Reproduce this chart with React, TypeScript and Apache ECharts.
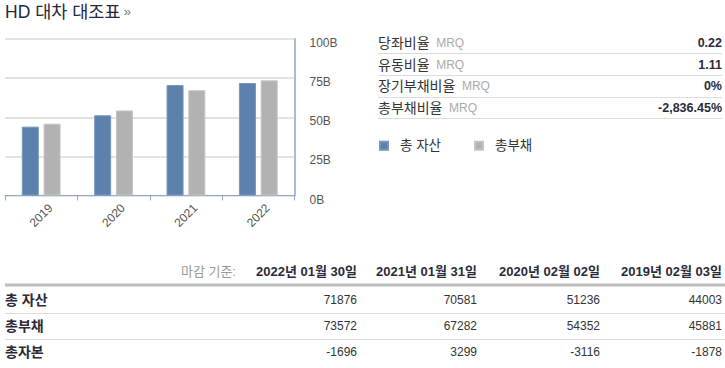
import React, { useEffect, useRef } from "react";
import * as echarts from "echarts";

const title = "HD 대차 대조표";
const years = ["2019", "2020", "2021", "2022"];
const totalAssets = [44003, 51236, 70581, 71876];
const totalLiabilities = [45881, 54352, 67282, 73572];
const seriesNames = ["총 자산", "총부채"];

const ratioLabels = ["당좌비율", "유동비율", "장기부채비율", "총부채비율"];
const ratioValues = ["0.22", "1.11", "0%", "-2,836.45%"];

const tableHeaderLabel = "마감 기준:";
const tableDates = ["2022년 01월 30일", "2021년 01월 31일", "2020년 02월 02일", "2019년 02월 03일"];
const tableRowLabels = ["총 자산", "총부채", "총자본"];
const tableAssets = [71876, 70581, 51236, 44003];
const tableLiabilities = [73572, 67282, 54352, 45881];
const tableEquity = [-1696, 3299, -3116, -1878];

const yTicks = [0, 25, 50, 75, 100];

const FONT = "'Liberation Sans', 'Noto Sans CJK KR', sans-serif";

export default function App() {
  const ref = useRef<HTMLDivElement>(null);
  useEffect(() => {
    if (!ref.current) return;
    const chart = echarts.init(ref.current, undefined, { renderer: "svg" });
    const graphics: any[] = [];

    graphics.push({
      type: "text",
      left: 5,
      top: 3,
      style: {
        text: `{t|${title}} {r|»}`,
        rich: {
          t: { fontSize: 17.5, fill: "#262640", fontFamily: FONT },
          r: { fontSize: 13, fill: "#777", fontFamily: FONT },
        },
      },
    });

    const ratioRowY = [42.5, 64.5, 86, 107.5];
    const ratioLineY = [53.5, 75.5, 97.5, 118.5];
    ratioLabels.forEach((lab, i) => {
      graphics.push({
        type: "text",
        x: 378,
        y: ratioRowY[i],
        style: {
          text: `{a|${lab}}  {b|MRQ}`,
          verticalAlign: "middle",
          rich: {
            a: { fontSize: 14, fill: "#333", fontFamily: FONT },
            b: { fontSize: 12, fill: "#aaa", fontFamily: FONT },
          },
        },
      });
      graphics.push({
        type: "text",
        x: 722,
        y: ratioRowY[i],
        style: {
          text: ratioValues[i],
          align: "right",
          verticalAlign: "middle",
          fontSize: 12.5,
          fontWeight: "bold",
          fill: "#2a2a3a",
          fontFamily: FONT,
        },
      });
      graphics.push({
        type: "line",
        shape: { x1: 378, y1: ratioLineY[i], x2: 722, y2: ratioLineY[i] },
        style: { stroke: "#dcdcdc", lineWidth: 1 },
      });
    });

    const colEnds = [357, 477, 600, 722];
    graphics.push({
      type: "text",
      x: 236,
      y: 271,
      style: {
        text: tableHeaderLabel,
        align: "right",
        verticalAlign: "middle",
        fontSize: 13,
        fill: "#999",
        fontFamily: FONT,
      },
    });
    tableDates.forEach((d, i) => {
      graphics.push({
        type: "text",
        x: colEnds[i],
        y: 271,
        style: {
          text: d,
          align: "right",
          verticalAlign: "middle",
          fontSize: 13,
          fontWeight: "bold",
          fill: "#2a2a3a",
          fontFamily: FONT,
        },
      });
    });
    graphics.push({
      type: "line",
      shape: { x1: 5, y1: 285, x2: 725, y2: 285 },
      style: { stroke: "#bdbdbd", lineWidth: 3 },
    });
    const rows = [tableAssets, tableLiabilities, tableEquity];
    const rowY = [300, 326, 352];
    const rowLineY = [313.5, 339.5];
    rows.forEach((vals, r) => {
      graphics.push({
        type: "text",
        x: 5,
        y: rowY[r],
        style: {
          text: tableRowLabels[r],
          verticalAlign: "middle",
          fontSize: 14,
          fontWeight: "bold",
          fill: "#2a2a3a",
          fontFamily: FONT,
        },
      });
      vals.forEach((v, i) => {
        graphics.push({
          type: "text",
          x: colEnds[i],
          y: rowY[r],
          style: {
            text: String(v),
            align: "right",
            verticalAlign: "middle",
            fontSize: 12,
            fill: "#333",
            fontFamily: FONT,
          },
        });
      });
    });
    rowLineY.forEach((y) => {
      graphics.push({
        type: "line",
        shape: { x1: 5, y1: y, x2: 725, y2: y },
        style: { stroke: "#dcdcdc", lineWidth: 1 },
      });
    });

    chart.setOption({
      animation: false,
      textStyle: { fontFamily: FONT },
      grid: { left: 5, right: 430.5, top: 39, bottom: 172.5, containLabel: false },
      legend: {
        left: 379,
        top: 139,
        padding: 0,
        itemWidth: 8,
        itemHeight: 8,
        itemGap: 33,
        icon: "rect",
        data: seriesNames,
        textStyle: { fontSize: 13.5, color: "#333", fontFamily: FONT, padding: [0, 0, 0, 7] },
      },
      xAxis: {
        type: "category",
        data: years,
        axisLine: { lineStyle: { color: "#8eaad0", width: 1 } },
        axisTick: { show: true, length: 5, lineStyle: { color: "#8eaad0" } },
        axisLabel: {
          rotate: 45,
          align: "center",
          verticalAlign: "middle",
          margin: 20,
          fontSize: 12,
          color: "#555",
          fontFamily: FONT,
        },
        splitLine: { show: false },
      },
      yAxis: {
        type: "value",
        position: "right",
        min: yTicks[0],
        max: yTicks[yTicks.length - 1],
        interval: 25,
        axisLine: { show: true, lineStyle: { color: "#a8bcd8", width: 2 } },
        axisTick: { show: false },
        axisLabel: {
          margin: 15,
          fontSize: 12,
          color: "#555",
          fontFamily: FONT,
          verticalAlign: "top",
          lineHeight: 8,
          formatter: (v: number) => `${v}B`,
        },
        splitLine: { lineStyle: { color: "#e3e3e3", width: 2 } },
      },
      series: [
        {
          name: seriesNames[0],
          type: "bar",
          data: totalAssets.map((v) => v / 1000),
          barWidth: 17,
          barGap: "28%",
          itemStyle: { color: "#5d81ad", borderColor: "#7795bb", borderWidth: 1 },
        },
        {
          name: seriesNames[1],
          type: "bar",
          data: totalLiabilities.map((v) => v / 1000),
          barWidth: 17,
          itemStyle: { color: "#b2b2b2", borderColor: "#c4c4c4", borderWidth: 1 },
        },
      ],
      graphic: graphics,
    });
    return () => chart.dispose();
  }, []);
  return (
    <div
      ref={ref}
      style={{ position: "absolute", left: 0, top: 0, width: 725, height: 368, background: "#fff" }}
    />
  );
}
